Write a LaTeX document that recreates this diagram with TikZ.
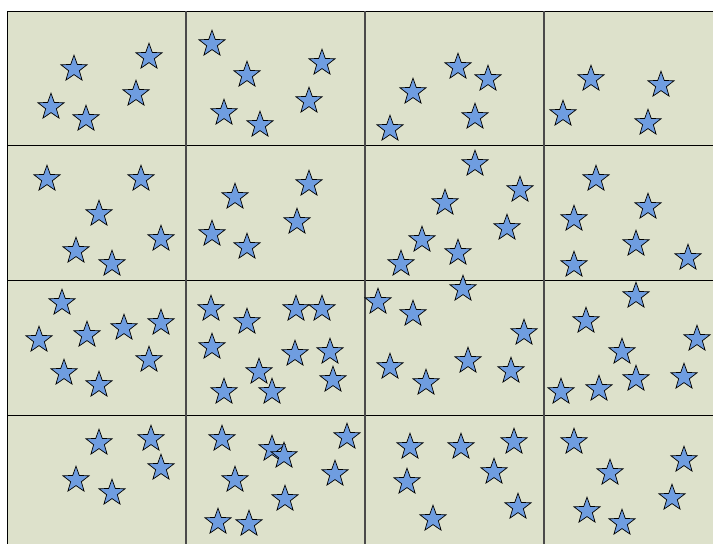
\documentclass[tikz,border=0pt]{standalone}
\usetikzlibrary{shapes.geometric}
\definecolor{bgsage}{HTML}{DDE1CB}
\definecolor{starblue}{HTML}{6F9DE0}
\definecolor{gridgrey}{HTML}{4A4A4A}
\tikzset{
  starnode/.style={star, star points=5, star point ratio=2.45, minimum size=27.5pt, inner sep=0pt,
    draw=black, line width=0.7pt, fill=starblue},
  hline/.style={draw=black, line width=1pt},
  vline/.style={draw=gridgrey, line width=1.2pt}
}
\begin{document}
\begin{tikzpicture}[x=1pt,y=-1pt]
\useasboundingbox (0,0) rectangle (713,544);
\fill[white] (0,0) rectangle (713,544);
\fill[bgsage] (7,11) rectangle (713,544);
\draw[hline] (7,11) -- (713,11);
\draw[hline] (7,11) -- (7,544);
\foreach \y in {145,280,415} \draw[hline] (7,\y) -- (713,\y);
\foreach \x in {186,365,544} \draw[vline] (\x,11) -- (\x,544);
\foreach \n/\px/\py in {
 a1/74/69, a2/149/57, a3/51/107, a4/86/119, a5/136/94,
 b1/212/44, b2/247/75, b3/322/63, b4/224/113, b5/260/125, b6/309/101,
 c1/458/67, c2/488/79, c3/413/92, c4/475/117, c5/390/129,
 d1/591/79, d2/661/85, d3/563/114, d4/648/123,
 e1/47/179, e2/141/179, e3/99/214, e4/161/239, e5/76/251, e6/112/264,
 f1/309/184, f2/235/197, f3/297/222, f4/212/234, f5/247/247,
 g1/475/164, g2/520/190, g3/445/203, g4/507/228, g5/422/240, g6/458/253, g7/401/264,
 h1/596/179, h2/648/207, h3/574/219, h4/636/244, h5/688/258, h6/574/265,
 i1/62/303, i2/39/340, i3/87/335, i4/124/328, i5/161/323, i6/149/360, i7/64/373, i8/99/385,
 j1/211/309, j2/247/322, j3/296/309, j4/322/309, j5/212/347, j6/295/354, j7/330/352, j8/259/372, j9/333/380, j10/224/392, j11/272/392,
 k1/463/289, k2/378/302, k3/413/314, k4/524/333, k5/390/367, k6/468/361, k7/511/371, k8/426/383,
 l1/636/296, l2/586/321, l3/697/339, l4/622/352, l5/636/379, l6/684/377, l7/561/392, l8/599/389,
 m1/99/443, m2/151/439, m3/161/468, m4/76/480, m5/112/493,
 n1/222/439, n2/272/449, n3/284/456, n4/347/437, n5/235/480, n6/335/474, n7/285/499, n8/218/522, n9/249/524,
 o1/410/447, o2/461/447, o3/514/442, o4/494/472, o5/407/482, o6/518/507, o7/433/519,
 p1/574/442, p2/684/460, p3/610/473, p4/672/498, p5/587/511, p6/622/523}
 \node[starnode] (\n) at (\px,\py) {};
\end{tikzpicture}
\end{document}
